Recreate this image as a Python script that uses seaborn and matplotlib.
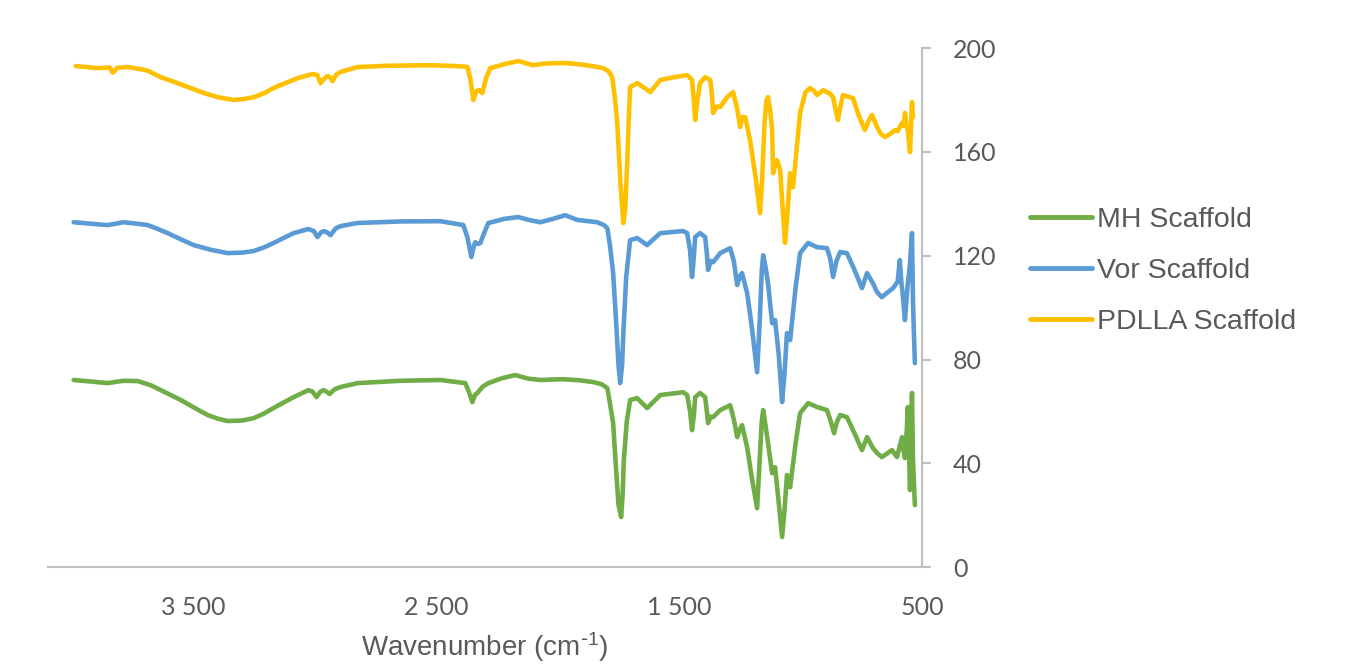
import pandas as pd
import numpy as np
import matplotlib.pyplot as plt
import seaborn as sns

# FTIR spectra (wavenumber, transmittance)
pdlla_wn = [3986, 3900, 3845, 3833, 3815, 3772, 3718, 3689, 3636, 3575, 3512, 3455, 3401, 3335, 3290, 3253, 3210, 3171,
            3120, 3072, 3010, 2990, 2977, 2960, 2949, 2938, 2928, 2912, 2895, 2825, 2700, 2525, 2400, 2372, 2360, 2348,
            2335, 2323, 2311, 2295, 2278, 2220, 2163, 2101, 2060, 2019, 1957, 1880, 1813, 1790, 1776, 1765, 1755, 1742,
            1730, 1722, 1714, 1708, 1702, 1673, 1640, 1619, 1578, 1520, 1467, 1447, 1440, 1434, 1425, 1414, 1393, 1372,
            1365, 1360, 1345, 1331, 1302, 1278, 1262, 1249, 1238, 1228, 1208, 1185, 1167, 1158, 1148, 1140, 1134, 1125,
            1117, 1113, 1105, 1097, 1084, 1075, 1064, 1055, 1043, 1037, 1031, 1015, 1002, 980, 961, 945, 932, 907, 880,
            866, 855, 846, 835, 825, 784, 760, 735, 720, 706, 685, 670, 652, 630, 611, 600, 582, 575, 570, 563, 558, 549,
            545, 541, 537]
pdlla_t = [193.1, 192.3, 192.5, 190.5, 192.4, 192.7, 191.9, 191.3, 188.8, 186.8, 184.6, 182.6, 181.1, 180.0, 180.4, 181.1,
           182.6, 184.6, 186.6, 188.4, 190.0, 189.6, 186.5, 188.4, 189.2, 188.8, 187.3, 189.8, 190.8, 192.7, 193.2, 193.4,
           193.0, 192.7, 188.0, 180.0, 183.5, 183.8, 182.7, 188.5, 192.3, 193.8, 195.0, 193.4, 194.0, 194.2, 194.2, 193.4,
           192.3, 191.0, 188.8, 181.0, 171.1, 148.0, 132.6, 138.0, 155.7, 172.0, 185.0, 186.5, 184.5, 183.0, 187.7, 188.8,
           189.6, 187.7, 180.0, 172.3, 180.0, 186.5, 188.8, 187.7, 182.0, 175.0, 177.5, 177.3, 181.1, 183.0, 177.0, 169.6,
           173.5, 173.4, 164.5, 150.0, 136.4, 150.0, 172.0, 180.0, 181.1, 176.0, 168.4, 151.8, 155.0, 156.8, 153.0, 140.0,
           124.9, 135.0, 151.8, 148.0, 146.4, 162.0, 175.0, 183.0, 184.6, 183.5, 181.9, 183.8, 182.5, 181.1, 176.0, 172.3,
           178.0, 181.9, 180.7, 174.0, 168.4, 172.0, 174.2, 169.6, 167.0, 165.7, 167.0, 168.4, 168.0, 171.1, 170.0, 175.0,
           170.0, 168.4, 159.9, 170.0, 179.2, 173.4]

vor_wn = [3994, 3920, 3854, 3788, 3740, 3689, 3650, 3607, 3550, 3500, 3430, 3360, 3300, 3253, 3210, 3171, 3130, 3088,
          3027, 3005, 2990, 2975, 2965, 2950, 2936, 2915, 2895, 2825, 2650, 2484, 2389, 2372, 2356, 2345, 2340, 2330,
          2319, 2300, 2286, 2220, 2163, 2120, 2072, 2020, 1969, 1920, 1837, 1810, 1796, 1785, 1772, 1760, 1750, 1743,
          1735, 1730, 1718, 1702, 1673, 1632, 1578, 1484, 1467, 1455, 1447, 1440, 1434, 1414, 1393, 1386, 1381, 1370,
          1360, 1331, 1290, 1275, 1261, 1250, 1241, 1220, 1200, 1179, 1168, 1160, 1154, 1145, 1134, 1117, 1105, 1090,
          1076, 1066, 1056, 1049, 1043, 1020, 1002, 969, 932, 891, 878, 866, 852, 837, 809, 780, 747, 726, 702, 685,
          665, 640, 619, 600, 591, 585, 578, 570, 563, 558, 550, 541, 537, 533, 529]
vor_t = [132.9, 132.3, 131.8, 132.9, 132.4, 131.8, 130.4, 128.7, 126.2, 124.1, 122.3, 121.0, 121.2, 121.8, 123.2, 124.9,
         126.8, 128.7, 130.3, 129.5, 127.2, 129.0, 129.5, 129.0, 127.9, 130.5, 131.4, 132.6, 133.2, 133.3, 131.8, 127.0,
         119.5, 124.0, 125.2, 124.5, 124.9, 129.5, 132.6, 134.2, 134.9, 133.8, 132.9, 134.2, 135.6, 133.8, 132.9, 131.8,
         130.6, 124.0, 113.3, 95.0, 78.0, 70.9, 78.0, 90.2, 112.0, 126.0, 126.8, 124.1, 128.7, 129.5, 128.7, 122.0,
         111.8, 119.0, 127.2, 128.7, 127.2, 121.0, 114.5, 118.0, 117.5, 121.0, 122.9, 118.0, 108.7, 112.0, 113.3, 105.6,
         92.0, 75.1, 95.0, 114.0, 120.2, 116.0, 109.4, 94.0, 95.2, 82.0, 63.6, 75.0, 90.2, 89.0, 87.5, 108.0, 121.0,
         124.9, 123.3, 122.9, 119.0, 111.8, 118.0, 121.4, 121.0, 115.0, 107.5, 113.3, 109.4, 106.0, 104.0, 106.0, 107.5,
         110.0, 118.3, 110.0, 104.0, 95.2, 104.0, 109.4, 116.0, 128.7, 102.9, 90.0, 78.6]

mh_wn = [3994, 3920, 3854, 3790, 3730, 3677, 3620, 3553, 3495, 3442, 3400, 3360, 3300, 3253, 3210, 3171, 3130, 3088, 3050,
         3027, 3010, 2994, 2978, 2965, 2952, 2940, 2920, 2895, 2825, 2650, 2484, 2381, 2366, 2352, 2340, 2331, 2310,
         2286, 2230, 2175, 2120, 2072, 2020, 1977, 1910, 1854, 1820, 1796, 1785, 1772, 1760, 1750, 1739, 1733, 1728,
         1716, 1702, 1673, 1632, 1578, 1484, 1467, 1455, 1447, 1440, 1434, 1414, 1393, 1386, 1381, 1370, 1360, 1331,
         1290, 1275, 1261, 1250, 1241, 1220, 1200, 1179, 1168, 1160, 1154, 1145, 1134, 1117, 1105, 1090, 1076, 1066,
         1056, 1049, 1043, 1020, 1002, 969, 932, 891, 875, 862, 850, 837, 809, 780, 747, 726, 702, 685, 665, 640, 623,
         603, 582, 576, 570, 563, 558, 549, 545, 541, 537, 529]
mh_t = [72.1, 71.5, 70.9, 71.8, 71.7, 70.1, 67.5, 64.4, 61.3, 58.6, 57.2, 56.3, 56.5, 57.4, 59.2, 61.3, 63.4, 65.5, 67.2,
        68.2, 67.6, 65.5, 67.6, 68.2, 67.6, 66.7, 68.5, 69.4, 70.9, 71.8, 72.1, 70.9, 67.5, 63.6, 66.5, 67.1, 69.5, 70.9,
        72.8, 74.0, 72.6, 72.1, 72.3, 72.4, 72.0, 71.3, 70.5, 69.0, 63.0, 55.5, 38.0, 24.0, 19.3, 28.0, 41.2, 56.0, 64.4,
        65.1, 61.3, 66.3, 67.4, 66.3, 60.0, 52.8, 58.0, 65.5, 67.1, 65.5, 60.0, 55.5, 58.0, 57.8, 60.5, 62.4, 57.0, 50.1,
        53.0, 54.7, 46.2, 34.0, 22.7, 42.0, 56.0, 60.5, 55.0, 47.8, 36.2, 38.5, 25.0, 11.6, 22.0, 35.5, 33.0, 30.8, 48.0,
        59.3, 63.2, 61.7, 60.5, 56.0, 51.6, 56.0, 58.6, 57.8, 52.0, 45.1, 50.1, 45.9, 44.0, 42.4, 44.0, 45.1, 42.4, 50.1,
        45.0, 42.0, 52.0, 61.7, 29.7, 50.0, 67.1, 41.2, 23.9]

names = ['MH Scaffold', 'Vor Scaffold', 'PDLLA Scaffold']
colors = {'MH Scaffold': '#70AD47', 'Vor Scaffold': '#5B9BD5', 'PDLLA Scaffold': '#FFC000'}

df = pd.concat([
    pd.DataFrame({'wn': mh_wn, 't': mh_t, 'sample': 'MH Scaffold'}),
    pd.DataFrame({'wn': vor_wn, 't': vor_t, 'sample': 'Vor Scaffold'}),
    pd.DataFrame({'wn': pdlla_wn, 't': pdlla_t, 'sample': 'PDLLA Scaffold'}),
])

sns.set_theme(style='white')
plt.rcParams['font.family'] = ['Lato', 'DejaVu Sans']
plt.rcParams['mathtext.default'] = 'regular'

grey = '#595959'
axis_grey = '#BFBFBF'

fig = plt.figure(figsize=(13.55, 6.68), dpi=100)
ax = fig.add_axes([0.0354, 0.151, 0.645, 0.777])

sns.lineplot(data=df, x='wn', y='t', hue='sample', hue_order=names, palette=colors,
             estimator=None, sort=False, linewidth=3.3, ax=ax)

ax.set_xlim(4100, 500)
ax.set_ylim(0, 200)
ax.set_xticks([3500, 2500, 1500, 500])
ax.set_xticklabels(['3 500', '2 500', '1 500', '500'])
ax.set_yticks([0, 40, 80, 120, 160, 200])
ax.yaxis.tick_right()

for s in ['top', 'left']:
    ax.spines[s].set_visible(False)
for s in ['right', 'bottom']:
    ax.spines[s].set_color(axis_grey)
    ax.spines[s].set_linewidth(1.5)

ax.tick_params(axis='y', direction='out', length=6.5, width=1.5, color=axis_grey,
               pad=16, labelsize=18, labelcolor=grey)
ax.tick_params(axis='x', length=0, pad=21, labelsize=18, labelcolor=grey)

ax.set_ylabel('')
ax.set_xlabel(r'Wavenumber (cm$^{\text{-}1}$)', fontsize=20, color=grey,
              family=['Liberation Sans', 'DejaVu Sans'], labelpad=8)

handles, labels = ax.get_legend_handles_labels()
leg = ax.legend(handles, labels, loc='center left', bbox_to_anchor=(0.760, 0.594),
                bbox_transform=fig.transFigure, frameon=False, handlelength=2.2,
                handletextpad=0.15, labelspacing=0.88, borderpad=0, borderaxespad=0,
                prop={'family': ['Liberation Sans', 'DejaVu Sans'], 'size': 20.5})
for t in leg.get_texts():
    t.set_color(grey)
for l in leg.get_lines():
    l.set_linewidth(3.5)

fig.savefig('out.png', dpi=100, facecolor='white')
